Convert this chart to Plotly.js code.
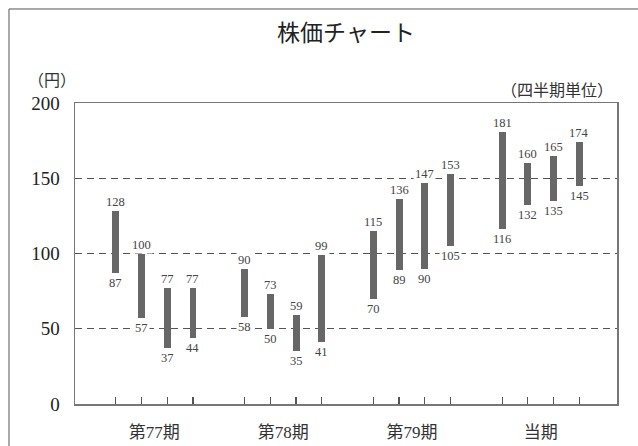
<!DOCTYPE html>
<html>
<head>
<meta charset="utf-8">
<script src="https://cdn.plot.ly/plotly-3.0.1.min.js"></script>
<style>
  html, body { margin: 0; padding: 0; background: #fff; }
  #chart { width: 638px; height: 446px; }
</style>
</head>
<body>
<div id="chart"></div>
<script>
// Quarterly share price range (high / low) per fiscal period
const periods = ['第77期', '第78期', '第79期', '当期'];
const quartersPerPeriod = 4;
const highs = [128, 100, 77, 77,  90, 73, 59, 99,  115, 136, 147, 153,  181, 160, 165, 174];
const lows  = [ 87,  57, 37, 44,  58, 50, 35, 41,   70,  89,  90, 105,  116, 132, 135, 145];
const yTicks = [0, 50, 100, 150, 200];

const serif = 'Liberation Serif, "Noto Sans CJK JP", serif';

// one slot per quarter, with an empty slot between periods
const xs = highs.map((_, i) => Math.floor(i / quartersPerPeriod) * (quartersPerPeriod + 1) + (i % quartersPerPeriod));
const periodCenters = periods.map((_, g) => g * (quartersPerPeriod + 1) + (quartersPerPeriod - 1) / 2);

const trace = {
  type: 'bar',
  x: xs,
  base: lows,
  y: highs.map((h, i) => h - lows[i]),
  width: 0.27,
  marker: { color: '#676767', line: { width: 0 } },
  hoverinfo: 'skip'
};

const labelFont = { family: serif, size: 12.5, color: '#444' };
const annotations = [];
xs.forEach((x, i) => {
  annotations.push({
    x: x, y: highs[i], xref: 'x', yref: 'y', text: String(highs[i]),
    showarrow: false, yanchor: 'bottom', yshift: 0, font: labelFont,
    bgcolor: '#fff', borderpad: 1
  });
  annotations.push({
    x: x, y: lows[i], xref: 'x', yref: 'y', text: String(lows[i]),
    showarrow: false, yanchor: 'top', yshift: -1, font: labelFont,
    bgcolor: '#fff', borderpad: 1
  });
});
annotations.push({
  xref: 'paper', yref: 'paper', x: -0.042, y: 1.076, text: '（円）',
  showarrow: false, xanchor: 'center', yanchor: 'middle',
  font: { family: serif, size: 16, color: '#333' }
});
annotations.push({
  xref: 'paper', yref: 'paper', x: 0.996, y: 1.04, text: '（四半期単位）',
  showarrow: false, xanchor: 'right', yanchor: 'middle',
  font: { family: serif, size: 16, color: '#333' }
});

const layout = {
  width: 638, height: 446,
  margin: { l: 75, r: 21, t: 103, b: 42 },
  paper_bgcolor: '#fff', plot_bgcolor: '#fff',
  showlegend: false,
  bargap: 0,
  title: {
    text: '株価チャート',
    x: 0.5, xref: 'paper', xanchor: 'center',
    y: 0.926, yref: 'container', yanchor: 'middle',
    font: { family: serif, size: 23, color: '#222' }
  },
  xaxis: {
    range: [-1.58, 19.46],
    tickmode: 'array', tickvals: periodCenters, ticktext: periods,
    ticks: '', ticklabelstandoff: 12,
    tickfont: { family: serif, size: 17, color: '#333' },
    minor: { tickmode: 'array', tickvals: xs, ticks: 'inside', ticklen: 7, tickcolor: '#555', tickwidth: 1.2, showgrid: false },
    showgrid: false, zeroline: false,
    showline: true, mirror: true, linecolor: '#777', linewidth: 1.5,
    fixedrange: true
  },
  yaxis: {
    range: [0, 200],
    tickmode: 'array', tickvals: yTicks,
    ticks: '', ticklabelstandoff: 10,
    tickfont: { family: serif, size: 19, color: '#222' },
    showgrid: true, gridcolor: '#555', gridwidth: 1.1, griddash: '7px,5px',
    zeroline: false,
    showline: true, mirror: true, linecolor: '#777', linewidth: 1.5,
    fixedrange: true
  },
  shapes: [{
    type: 'rect', xref: 'paper', yref: 'paper',
    x0: -0.1218, x1: 1.2, y0: -0.3, y1: 1.3123,
    line: { color: '#555', width: 1 }, fillcolor: 'rgba(0,0,0,0)', layer: 'below'
  }],
  annotations: annotations
};

Plotly.newPlot('chart', [trace], layout, { displayModeBar: false, staticPlot: true });
</script>
</body>
</html>
